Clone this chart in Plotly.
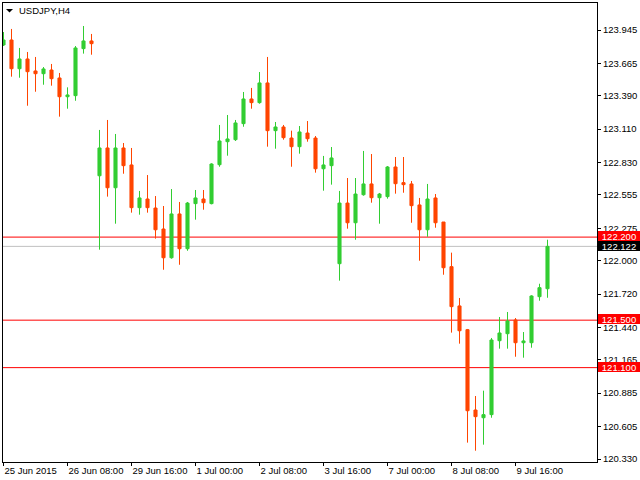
import plotly.graph_objects as go

# H4 candles, index 0 = 25 Jun 2015 00:00
opens = [123.819, 123.861, 123.619, 123.701, 123.600, 123.577, 123.608, 123.541, 123.383, 123.392,
         123.788, 123.853, 122.717, 122.951, 122.616, 122.951, 122.808, 122.448, 122.521, 122.445,
         122.268, 122.026, 122.395, 122.102, 122.482, 122.521, 122.482, 122.810, 123.004, 123.021,
         123.156, 123.364, 123.333, 123.499, 123.097, 123.128, 123.035, 122.962, 123.077, 123.035,
         122.776, 122.802, 121.976, 122.487, 122.321, 122.557, 122.648, 122.532, 122.541, 122.791,
         122.659, 122.648, 122.471, 122.262, 122.530, 122.327, 121.951, 121.620, 121.420, 120.743,
         120.678, 120.704, 121.327, 121.386, 121.502, 121.310, 121.310, 121.698, 121.765]
highs = [123.928, 123.954, 123.794, 123.760, 123.718, 123.633, 123.659, 123.583, 123.462, 123.810,
         123.979, 123.912, 123.103, 123.187, 123.069, 122.993, 122.951, 122.589, 122.723, 122.546,
         122.462, 122.605, 122.496, 122.496, 122.597, 122.597, 122.822, 123.145, 123.229, 123.187,
         123.423, 123.457, 123.591, 123.718, 123.170, 123.145, 123.097, 123.136, 123.178, 123.052,
         122.884, 122.959, 122.589, 122.698, 122.698, 122.926, 122.900, 122.572, 122.799, 122.875,
         122.875, 122.673, 122.530, 122.648, 122.563, 122.327, 122.069, 121.687, 121.426, 120.861,
         120.906, 121.350, 121.527, 121.569, 121.518, 121.400, 121.710, 121.807, 122.178]
lows = [123.810, 123.552, 123.543, 123.307, 123.425, 123.484, 123.476, 123.215, 123.282, 123.349,
        123.746, 123.737, 122.094, 122.541, 122.313, 122.734, 122.406, 122.389, 122.406, 122.187,
        121.925, 122.018, 121.967, 122.085, 122.347, 122.431, 122.476, 122.793, 122.886, 123.010,
        123.130, 123.282, 123.324, 122.962, 122.945, 123.021, 122.793, 122.903, 123.004, 122.743,
        122.591, 122.642, 121.833, 122.271, 122.178, 122.549, 122.490, 122.313, 122.524, 122.566,
        122.574, 122.321, 122.001, 122.203, 122.279, 121.883, 121.395, 121.302, 120.468, 120.400,
        120.451, 120.678, 121.260, 121.260, 121.192, 121.184, 121.268, 121.664, 121.689]
closes = [123.861, 123.619, 123.701, 123.594, 123.577, 123.617, 123.535, 123.383, 123.398, 123.794,
          123.853, 123.830, 122.951, 122.616, 122.951, 122.802, 122.448, 122.530, 122.448, 122.262,
          122.026, 122.395, 122.102, 122.487, 122.530, 122.490, 122.816, 123.010, 123.027, 123.162,
          123.364, 123.333, 123.499, 123.097, 123.128, 123.038, 122.962, 123.086, 123.029, 122.776,
          122.808, 122.867, 122.487, 122.321, 122.563, 122.648, 122.532, 122.563, 122.791, 122.650,
          122.642, 122.465, 122.262, 122.521, 122.321, 121.942, 121.614, 121.411, 120.737, 120.687,
          120.704, 121.333, 121.392, 121.493, 121.310, 121.325, 121.704, 121.774, 122.122]
bar_index = list(range(len(opens)))

x_tick_index = [0, 8, 16, 24, 32, 40, 48, 56, 64]
x_tick_labels = ["25 Jun 2015", "26 Jun 08:00", "29 Jun 16:00", "1 Jul 00:00", "2 Jul 08:00",
                 "3 Jul 16:00", "7 Jul 00:00", "8 Jul 08:00", "9 Jul 16:00"]
y_tick_values = [123.945, 123.665, 123.390, 123.110, 122.830, 122.555, 122.275, 122.000,
                 121.720, 121.440, 121.165, 120.885, 120.605, 120.330]
y_tick_labels = [f"{v:.3f}" for v in y_tick_values]

level_lines = [122.200, 121.500, 121.100]
bid_price = 122.122
symbol_title = "USDJPY,H4"

UP = "#32CD32"
DOWN = "#FF4500"
FONT = "Liberation Sans, Arial, sans-serif"

fig = go.Figure()
fig.add_trace(go.Candlestick(
    x=bar_index, open=opens, high=highs, low=lows, close=closes,
    increasing=dict(line=dict(color=UP, width=1), fillcolor=UP),
    decreasing=dict(line=dict(color=DOWN, width=1), fillcolor=DOWN),
    whiskerwidth=0, showlegend=False, hoverinfo="skip",
))

shapes = []
for lv in level_lines:
    shapes.append(dict(type="line", xref="paper", x0=0, x1=1, yref="y", y0=lv, y1=lv,
                       line=dict(color="#FF0000", width=1), layer="below"))
shapes.append(dict(type="line", xref="paper", x0=0, x1=1, yref="y", y0=bid_price, y1=bid_price,
                   line=dict(color="#C0C0C0", width=1), layer="below"))

# plot area: x 3..597 px (594), y 3..462 px (459)
PW, PH = 594.0, 459.0
def px_x(p):
    return (p - 3) / PW
def px_y(p):
    return 1 - (p - 3) / PH

shapes.append(dict(type="path", xref="paper", yref="paper",
                   path=f"M {px_x(6)},{px_y(9)} L {px_x(13)},{px_y(9)} L {px_x(9.5)},{px_y(12.5)} Z",
                   fillcolor="black", line=dict(width=0)))

annotations = [dict(text=symbol_title, xref="paper", yref="paper", x=px_x(16.5), y=px_y(10.5),
                    xanchor="left", yanchor="middle", showarrow=False,
                    font=dict(family=FONT, size=9.5, color="black"))]

for lv in level_lines:
    annotations.append(dict(text=f"{lv:.3f}", xref="paper", yref="y", x=1, y=lv, xshift=1, yshift=1,
                            xanchor="left", yanchor="middle", showarrow=False,
                            bgcolor="#FF0000", width=42, height=10, borderpad=0, borderwidth=0,
                            align="center", font=dict(family=FONT, size=9.5, color="white")))
annotations.append(dict(text=f"{bid_price:.3f}", xref="paper", yref="y", x=1, y=bid_price, xshift=1,
                        xanchor="left", yanchor="middle", showarrow=False,
                        bgcolor="#000000", width=42, height=10, borderpad=0, borderwidth=0,
                        align="center", font=dict(family=FONT, size=9.5, color="white")))

fig.update_layout(
    width=640, height=480,
    margin=dict(l=3, r=43, t=3, b=18),
    paper_bgcolor="white", plot_bgcolor="white",
    showlegend=False,
    boxgap=0.45,
    shapes=shapes, annotations=annotations,
    xaxis=dict(range=[-0.0625, 74.1875], showgrid=False, zeroline=False,
               rangeslider=dict(visible=False),
               showline=True, linecolor="black", linewidth=1, mirror=True,
               ticks="outside", ticklen=3, tickcolor="black", tickwidth=1,
               tickvals=x_tick_index, ticktext=x_tick_labels,
               ticklabelposition="outside right",
               tickfont=dict(family=FONT, size=9.5, color="black"), fixedrange=True),
    yaxis=dict(range=[120.3049, 124.1727], side="right", showgrid=False, zeroline=False,
               showline=True, linecolor="black", linewidth=1, mirror=True,
               ticks="outside", ticklen=3, tickcolor="black", tickwidth=1,
               tickvals=y_tick_values, ticktext=y_tick_labels,
               tickfont=dict(family=FONT, size=9.5, color="black"), fixedrange=True),
)

fig.write_html("out.html")
